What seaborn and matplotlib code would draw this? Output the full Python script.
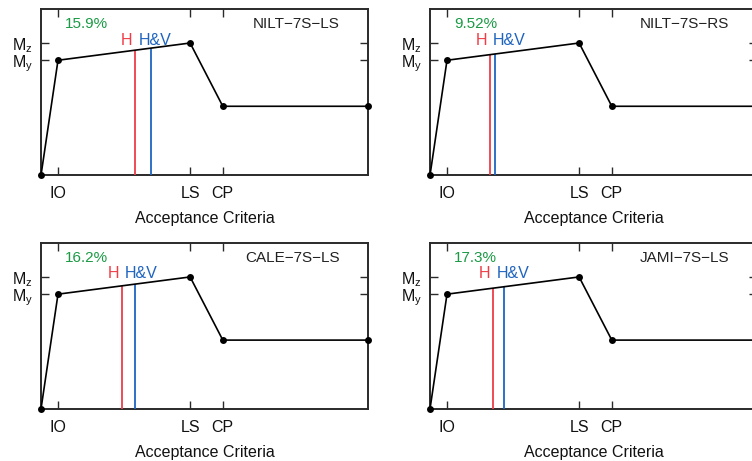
import numpy as np
import pandas as pd
import matplotlib
matplotlib.use("Agg")
import matplotlib.pyplot as plt
import seaborn as sns

# ---- data ----
point_names = ["origin", "IO", "LS", "CP", "end"]
x_points = [0.0, 5.2, 45.6, 55.6, 100.0]
y_points = [0.0, 1.0, 1.15, 0.6, 0.6]
x_tick_labels = ["IO", "LS", "CP"]
y_tick_labels = [r"M$_{\rm y}$", r"M$_{\rm z}$"]
panel_names = ["NILT\u22127S\u2212LS", "NILT\u22127S\u2212RS", "CALE\u22127S\u2212LS", "JAMI\u22127S\u2212LS"]
percent_labels = ["15.9%", "9.52%", "16.2%", "17.3%"]
h_positions = [28.75, 18.25, 24.7, 19.4]
hv_positions = [33.5, 19.9, 28.65, 22.6]

sns.set_theme(style="ticks")
plt.rcParams["font.family"] = ["Liberation Sans", "DejaVu Sans"]
plt.rcParams["mathtext.fontset"] = "custom"
plt.rcParams["mathtext.rm"] = "Liberation Sans"
plt.rcParams["mathtext.it"] = "Liberation Sans:italic"

W, H = 752, 461
fig = plt.figure(figsize=(W / 100, H / 100), dpi=100)

# axes boxes in pixels: (left, top, width, height)
boxes = [(41, 9.3, 327, 166), (430, 9.3, 327, 166),
         (41, 243.3, 327, 165.7), (430, 243.3, 327, 165.7)]

df = pd.DataFrame({"x": x_points, "y": y_points, "name": point_names})
red = "#ee3d46"
blue = "#1f64c0"
green = "#1a9a45"
spine_col = "#2a2a2a"

for i, (l, t, w, h) in enumerate(boxes):
    ax = fig.add_axes([l / W, 1 - (t + h) / H, w / W, h / H])
    sns.lineplot(data=df, x="x", y="y", ax=ax, color="black", lw=1.2,
                 marker="o", markersize=5, markeredgewidth=0,
                 markerfacecolor="black", clip_on=False, zorder=5)
    ax.set_xlim(0, 100)
    ax.set_ylim(0, 1.443)
    # vertical lines up to the curve
    for xv, col in [(h_positions[i], red), (hv_positions[i], blue)]:
        ytop = np.interp(xv, x_points, y_points)
        ax.vlines(xv, 0, ytop, color=col, lw=1.3, zorder=3)
    ax.annotate("H", xy=(h_positions[i], 0.815), xycoords=("data", "axes fraction"),
                xytext=(-2, 0), textcoords="offset points", ha="right", va="center",
                color=red, fontsize=11.5)
    ax.annotate("H&V", xy=(h_positions[i], 0.815), xycoords=("data", "axes fraction"),
                xytext=(2.5, 0), textcoords="offset points", ha="left", va="center",
                color=blue, fontsize=11.5)
    ax.text(0.073, 0.911, percent_labels[i], transform=ax.transAxes, color=green,
            fontsize=11, ha="left", va="center")
    ax.text(0.914, 0.911, panel_names[i], transform=ax.transAxes, color="#222222",
            fontsize=11, ha="right", va="center")

    ax.set_xticks([x_points[1], x_points[2], x_points[3]])
    ax.set_xticklabels(x_tick_labels)
    ax.set_yticks([y_points[1], y_points[2]])
    ax.set_yticklabels(y_tick_labels)
    ax.tick_params(axis="both", direction="in", length=6, width=1.0,
                   color=spine_col, labelsize=11.5, top=True, right=True,
                   labelcolor="#111111")
    ax.tick_params(axis="x", pad=8)
    ax.tick_params(axis="y", pad=6)
    ax.set_xlabel("Acceptance Criteria", fontsize=11.5, labelpad=7, color="#111111")
    ax.set_ylabel("")
    for s in ax.spines.values():
        s.set_linewidth(1.4)
        s.set_color(spine_col)
        s.set_visible(True)

fig.savefig("out.png", dpi=100)
